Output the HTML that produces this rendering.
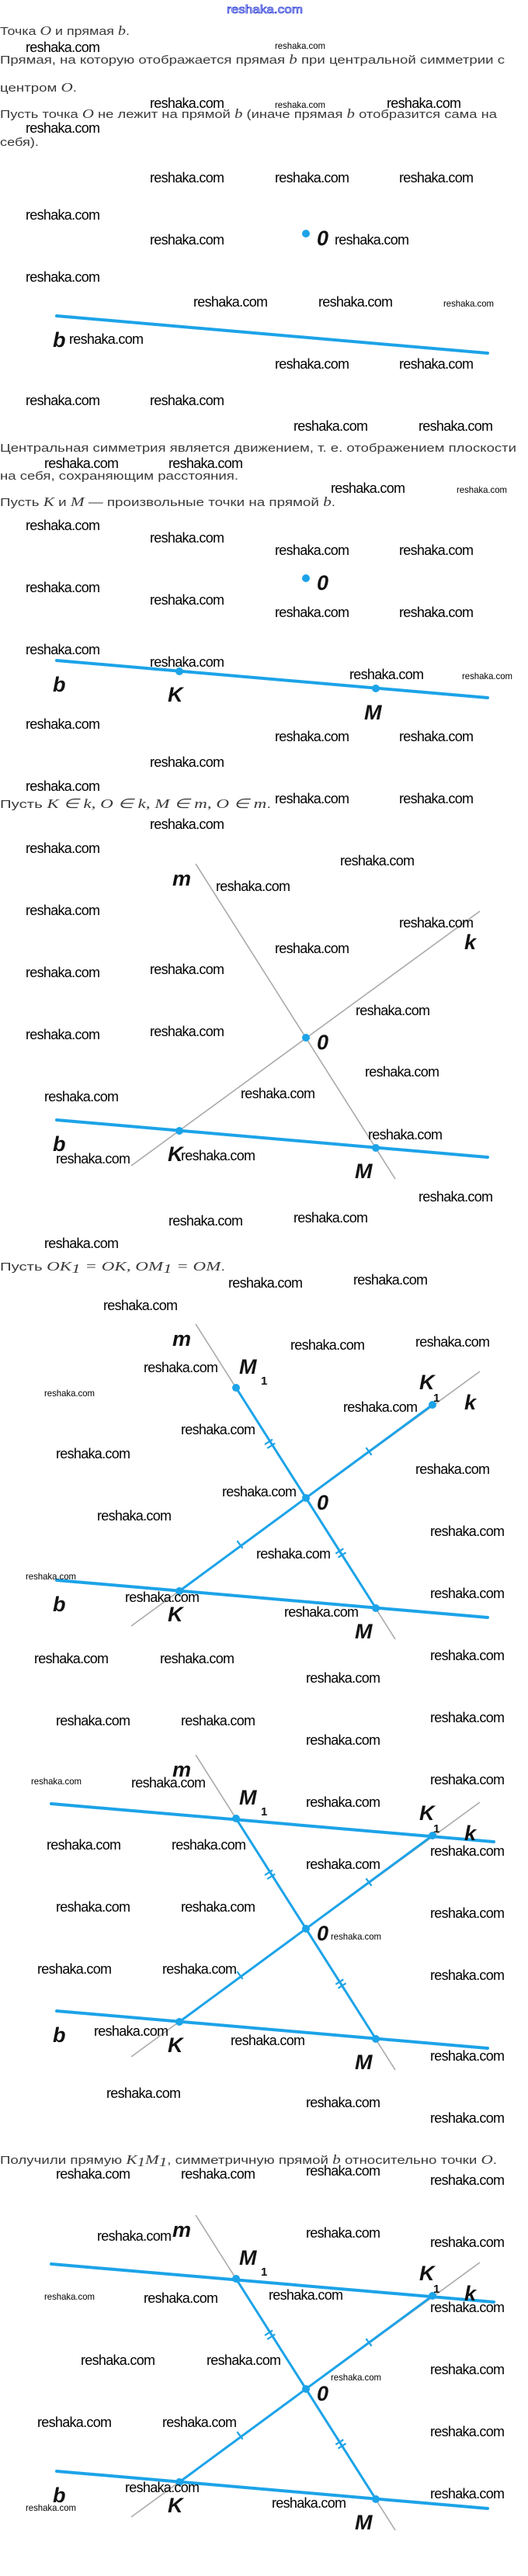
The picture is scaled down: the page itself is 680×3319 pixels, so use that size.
<!DOCTYPE html>
<html><head><meta charset="utf-8"><style>
html,body{margin:0;padding:0;background:#fff;}
svg{display:block;}
.t{font-family:"Liberation Sans",sans-serif;font-size:15px;fill:#3a3a3a;}
.m{font-family:"Liberation Serif",serif;font-style:italic;font-size:17px;}
.w{font-family:"Liberation Sans Narrow","Liberation Sans",sans-serif;font-size:18px;fill:#000;}
.ws{font-family:"Liberation Sans Narrow","Liberation Sans",sans-serif;font-size:12px;fill:#000;}
.l{font-family:"Liberation Sans",sans-serif;font-weight:bold;font-style:italic;font-size:27px;fill:#111;}
.s{font-family:"Liberation Sans",sans-serif;font-weight:bold;font-size:15px;fill:#111;}
.g{stroke:#aaa;stroke-width:1.6;fill:none;}
.bb{stroke:#1ca3e8;stroke-width:4;fill:none;stroke-linecap:round;}
.bs{stroke:#1ca3e8;stroke-width:3;fill:none;}
.tk{stroke:#1ca3e8;stroke-width:2.2;}
.d{fill:#1ca3e8;}
</style></head><body>
<svg width="680" height="3319" viewBox="0 0 680 3319" xmlns="http://www.w3.org/2000/svg">
<defs>
<g id="ticks">
<line class="tk" x1="341" y1="-69" x2="351" y2="-75.4"/>
<line class="tk" x1="344.2" y1="-64" x2="354.2" y2="-70.4"/>
<line class="tk" x1="471.4" y1="-64.8" x2="478.6" y2="-55.2"/>
<line class="tk" x1="305.4" y1="55.2" x2="312.6" y2="64.8"/>
<line class="tk" x1="432.3" y1="71.7" x2="442.3" y2="65.3"/>
<line class="tk" x1="435.5" y1="76.7" x2="445.5" y2="70.3"/>
</g>
</defs>
<text x="341" y="17" text-anchor="middle" font-family="Liberation Sans, sans-serif" font-size="15" fill="#fff" stroke="#2a3cd6" stroke-width="0.8" textLength="98" lengthAdjust="spacingAndGlyphs">reshaka.com</text>

<!-- paragraph text -->
<text class="t" x="0" y="45" textLength="167" lengthAdjust="spacingAndGlyphs">Точка <tspan class="m">O</tspan> и прямая <tspan class="m">b</tspan>.</text>
<text class="t" x="0" y="82" textLength="650" lengthAdjust="spacingAndGlyphs">Прямая, на которую отображается прямая <tspan class="m">b</tspan> при центральной симметрии с</text>
<text class="t" x="0" y="118" textLength="99" lengthAdjust="spacingAndGlyphs">центром <tspan class="m">O</tspan>.</text>
<text class="t" x="0" y="152" textLength="640" lengthAdjust="spacingAndGlyphs">Пусть точка <tspan class="m">O</tspan> не лежит на прямой <tspan class="m">b</tspan> (иначе прямая <tspan class="m">b</tspan> отобразится сама на</text>
<text class="t" x="0" y="188" textLength="50" lengthAdjust="spacingAndGlyphs">себя).</text>
<text class="t" x="0" y="582" textLength="665" lengthAdjust="spacingAndGlyphs">Центральная симметрия является движением, т. е. отображением плоскости</text>
<text class="t" x="0" y="618" textLength="307" lengthAdjust="spacingAndGlyphs">на себя, сохраняющим расстояния.</text>
<text class="t" x="0" y="652" textLength="432" lengthAdjust="spacingAndGlyphs">Пусть <tspan class="m">K</tspan> и <tspan class="m">M</tspan> — произвольные точки на прямой <tspan class="m">b</tspan>.</text>
<text class="t" x="0" y="1041" textLength="349" lengthAdjust="spacingAndGlyphs">Пусть <tspan class="m">K ∈ k,  O ∈ k,  M ∈ m,  O ∈ m</tspan>.</text>
<text class="t" x="0" y="1637" textLength="290" lengthAdjust="spacingAndGlyphs">Пусть <tspan class="m">OK</tspan><tspan class="m" font-size="11" dy="3">1</tspan><tspan class="m" dy="-3"> = OK, OM</tspan><tspan class="m" font-size="11" dy="3">1</tspan><tspan class="m" dy="-3"> = OM</tspan>.</text>
<text class="t" x="0" y="2788" textLength="640" lengthAdjust="spacingAndGlyphs">Получили прямую <tspan class="m">K</tspan><tspan class="m" font-size="11" dy="3">1</tspan><tspan class="m" dy="-3">M</tspan><tspan class="m" font-size="11" dy="3">1</tspan><tspan dy="-3">, симметричную прямой </tspan><tspan class="m">b</tspan> относительно точки <tspan class="m">O</tspan>.</text>

<!-- Diagram 1 -->
<g transform="translate(0,301)">
<line class="bb" x1="73" y1="106" x2="628" y2="154"/>
<circle class="d" cx="394" cy="0" r="5"/>
<text class="l" x="408" y="15">0</text>
<text class="l" x="68" y="146">b</text>
</g>
<!-- Diagram 2 -->
<g transform="translate(0,745)">
<line class="bb" x1="73" y1="106" x2="628" y2="154"/>
<circle class="d" cx="394" cy="0" r="5"/>
<circle class="d" cx="231" cy="120" r="5"/>
<circle class="d" cx="484" cy="142" r="5"/>
<text class="l" x="408" y="15">0</text>
<text class="l" x="68" y="146">b</text>
<text class="l" x="216" y="159">K</text>
<text class="l" x="469" y="182">M</text>
</g>
<!-- Diagram 3 -->
<g transform="translate(0,1337)">
<line class="g" x1="252" y1="-224" x2="509" y2="182"/>
<line class="g" x1="618" y1="-163" x2="169" y2="165"/>
<line class="bb" x1="73" y1="106" x2="628" y2="154"/>
<circle class="d" cx="394" cy="0" r="5"/>
<circle class="d" cx="231" cy="120" r="5"/>
<circle class="d" cx="484" cy="142" r="5"/>
<text class="l" x="222" y="-196">m</text>
<text class="l" x="598" y="-114">k</text>
<text class="l" x="408" y="15">0</text>
<text class="l" x="68" y="146">b</text>
<text class="l" x="216" y="159">K</text>
<text class="l" x="457" y="181">M</text>
</g>
<!-- Diagram 4 -->
<g transform="translate(0,1930)">
<line class="g" x1="252" y1="-224" x2="509" y2="182"/>
<line class="g" x1="618" y1="-163" x2="169" y2="165"/>
<line class="bb" x1="73" y1="106" x2="628" y2="154"/>
<line class="bs" x1="304" y1="-142" x2="484" y2="142"/>
<line class="bs" x1="557" y1="-120" x2="231" y2="120"/>
<use href="#ticks"/>
<circle class="d" cx="394" cy="0" r="5"/>
<circle class="d" cx="231" cy="120" r="5"/>
<circle class="d" cx="484" cy="142" r="5"/>
<circle class="d" cx="304" cy="-142" r="5"/>
<circle class="d" cx="557" cy="-120" r="5"/>
<text class="l" x="222" y="-196">m</text>
<text class="l" x="308" y="-160">M</text><text class="s" x="336" y="-146">1</text>
<text class="l" x="540" y="-140">K</text><text class="s" x="558" y="-124">1</text>
<text class="l" x="598" y="-114">k</text>
<text class="l" x="408" y="15">0</text>
<text class="l" x="68" y="146">b</text>
<text class="l" x="216" y="159">K</text>
<text class="l" x="457" y="181">M</text>
</g>
<!-- Diagram 5 -->
<g transform="translate(0,2485)">
<line class="g" x1="252" y1="-224" x2="509" y2="182"/>
<line class="g" x1="618" y1="-163" x2="169" y2="165"/>
<line class="bb" x1="73" y1="106" x2="628" y2="154"/>
<line class="bb" x1="66" y1="-161" x2="636" y2="-112"/>
<line class="bs" x1="304" y1="-142" x2="484" y2="142"/>
<line class="bs" x1="557" y1="-120" x2="231" y2="120"/>
<use href="#ticks"/>
<circle class="d" cx="394" cy="0" r="5"/>
<circle class="d" cx="231" cy="120" r="5"/>
<circle class="d" cx="484" cy="142" r="5"/>
<circle class="d" cx="304" cy="-142" r="5"/>
<circle class="d" cx="557" cy="-120" r="5"/>
<text class="l" x="222" y="-196">m</text>
<text class="l" x="308" y="-160">M</text><text class="s" x="336" y="-146">1</text>
<text class="l" x="540" y="-140">K</text><text class="s" x="558" y="-124">1</text>
<text class="l" x="598" y="-114">k</text>
<text class="l" x="408" y="15">0</text>
<text class="l" x="68" y="146">b</text>
<text class="l" x="216" y="159">K</text>
<text class="l" x="457" y="181">M</text>
</g>
<!-- Diagram 6 -->
<g transform="translate(0,3078)">
<line class="g" x1="252" y1="-224" x2="509" y2="182"/>
<line class="g" x1="618" y1="-163" x2="169" y2="165"/>
<line class="bb" x1="73" y1="106" x2="628" y2="154"/>
<line class="bb" x1="66" y1="-161" x2="636" y2="-112"/>
<line class="bs" x1="304" y1="-142" x2="484" y2="142"/>
<line class="bs" x1="557" y1="-120" x2="231" y2="120"/>
<use href="#ticks"/>
<circle class="d" cx="394" cy="0" r="5"/>
<circle class="d" cx="231" cy="120" r="5"/>
<circle class="d" cx="484" cy="142" r="5"/>
<circle class="d" cx="304" cy="-142" r="5"/>
<circle class="d" cx="557" cy="-120" r="5"/>
<text class="l" x="222" y="-196">m</text>
<text class="l" x="308" y="-160">M</text><text class="s" x="336" y="-146">1</text>
<text class="l" x="540" y="-140">K</text><text class="s" x="558" y="-124">1</text>
<text class="l" x="598" y="-114">k</text>
<text class="l" x="408" y="15">0</text>
<text class="l" x="68" y="146">b</text>
<text class="l" x="216" y="159">K</text>
<text class="l" x="457" y="181">M</text>
</g>

<!-- big watermarks -->
<g class="w" lengthAdjust="spacingAndGlyphs">
<text class="w" textLength="96" x="33" y="67">reshaka.com</text>
<text class="w" textLength="96" x="193" y="139">reshaka.com</text>
<text class="w" textLength="96" x="498" y="139">reshaka.com</text>
<text class="w" textLength="96" x="33" y="171">reshaka.com</text>
<text class="w" textLength="96" x="193" y="235">reshaka.com</text>
<text class="w" textLength="96" x="354" y="235">reshaka.com</text>
<text class="w" textLength="96" x="514" y="235">reshaka.com</text>
<text class="w" textLength="96" x="33" y="283">reshaka.com</text>
<text class="w" textLength="96" x="193" y="315">reshaka.com</text>
<text class="w" textLength="96" x="431" y="315">reshaka.com</text>
<text class="w" textLength="96" x="33" y="363">reshaka.com</text>
<text class="w" textLength="96" x="249" y="395">reshaka.com</text>
<text class="w" textLength="96" x="410" y="395">reshaka.com</text>
<text class="w" textLength="96" x="89" y="443">reshaka.com</text>
<text class="w" textLength="96" x="354" y="475">reshaka.com</text>
<text class="w" textLength="96" x="514" y="475">reshaka.com</text>
<text class="w" textLength="96" x="33" y="522">reshaka.com</text>
<text class="w" textLength="96" x="193" y="522">reshaka.com</text>
<text class="w" textLength="96" x="378" y="555">reshaka.com</text>
<text class="w" textLength="96" x="539" y="555">reshaka.com</text>
<text class="w" textLength="96" x="57" y="603">reshaka.com</text>
<text class="w" textLength="96" x="217" y="603">reshaka.com</text>
<text class="w" textLength="96" x="426" y="635">reshaka.com</text>
<text class="w" textLength="96" x="33" y="683">reshaka.com</text>
<text class="w" textLength="96" x="193" y="699">reshaka.com</text>
<text class="w" textLength="96" x="354" y="715">reshaka.com</text>
<text class="w" textLength="96" x="514" y="715">reshaka.com</text>
<text class="w" textLength="96" x="33" y="763">reshaka.com</text>
<text class="w" textLength="96" x="193" y="779">reshaka.com</text>
<text class="w" textLength="96" x="354" y="795">reshaka.com</text>
<text class="w" textLength="96" x="514" y="795">reshaka.com</text>
<text class="w" textLength="96" x="33" y="843">reshaka.com</text>
<text class="w" textLength="96" x="193" y="859">reshaka.com</text>
<text class="w" textLength="96" x="450" y="875">reshaka.com</text>
<text class="w" textLength="96" x="33" y="939">reshaka.com</text>
<text class="w" textLength="96" x="354" y="955">reshaka.com</text>
<text class="w" textLength="96" x="514" y="955">reshaka.com</text>
<text class="w" textLength="96" x="193" y="988">reshaka.com</text>
<text class="w" textLength="96" x="33" y="1019">reshaka.com</text>
<text class="w" textLength="96" x="354" y="1035">reshaka.com</text>
<text class="w" textLength="96" x="514" y="1035">reshaka.com</text>
<text class="w" textLength="96" x="193" y="1068">reshaka.com</text>
<text class="w" textLength="96" x="33" y="1099">reshaka.com</text>
<text class="w" textLength="96" x="438" y="1115">reshaka.com</text>
<text class="w" textLength="96" x="278" y="1148">reshaka.com</text>
<text class="w" textLength="96" x="33" y="1179">reshaka.com</text>
<text class="w" textLength="96" x="514" y="1195">reshaka.com</text>
<text class="w" textLength="96" x="354" y="1228">reshaka.com</text>
<text class="w" textLength="96" x="193" y="1255">reshaka.com</text>
<text class="w" textLength="96" x="33" y="1259">reshaka.com</text>
<text class="w" textLength="96" x="458" y="1308">reshaka.com</text>
<text class="w" textLength="96" x="193" y="1335">reshaka.com</text>
<text class="w" textLength="96" x="33" y="1339">reshaka.com</text>
<text class="w" textLength="96" x="470" y="1387">reshaka.com</text>
<text class="w" textLength="96" x="310" y="1415">reshaka.com</text>
<text class="w" textLength="96" x="57" y="1419">reshaka.com</text>
<text class="w" textLength="96" x="474" y="1468">reshaka.com</text>
<text class="w" textLength="96" x="72" y="1499">reshaka.com</text>
<text class="w" textLength="96" x="233" y="1495">reshaka.com</text>
<text class="w" textLength="96" x="539" y="1548">reshaka.com</text>
<text class="w" textLength="96" x="217" y="1579">reshaka.com</text>
<text class="w" textLength="96" x="378" y="1575">reshaka.com</text>
<text class="w" textLength="96" x="57" y="1608">reshaka.com</text>
<text class="w" textLength="96" x="294" y="1659">reshaka.com</text>
<text class="w" textLength="96" x="455" y="1655">reshaka.com</text>
<text class="w" textLength="96" x="133" y="1688">reshaka.com</text>
<text class="w" textLength="96" x="374" y="1739">reshaka.com</text>
<text class="w" textLength="96" x="535" y="1735">reshaka.com</text>
<text class="w" textLength="96" x="185" y="1768">reshaka.com</text>
<text class="w" textLength="96" x="442" y="1819">reshaka.com</text>
<text class="w" textLength="96" x="233" y="1848">reshaka.com</text>
<text class="w" textLength="96" x="72" y="1879">reshaka.com</text>
<text class="w" textLength="96" x="535" y="1899">reshaka.com</text>
<text class="w" textLength="96" x="286" y="1928">reshaka.com</text>
<text class="w" textLength="96" x="125" y="1959">reshaka.com</text>
<text class="w" textLength="96" x="554" y="1979">reshaka.com</text>
<text class="w" textLength="96" x="330" y="2008">reshaka.com</text>
<text class="w" textLength="96" x="161" y="2064">reshaka.com</text>
<text class="w" textLength="96" x="554" y="2059">reshaka.com</text>
<text class="w" textLength="96" x="366" y="2083">reshaka.com</text>
<text class="w" textLength="96" x="44" y="2143">reshaka.com</text>
<text class="w" textLength="96" x="206" y="2143">reshaka.com</text>
<text class="w" textLength="96" x="554" y="2139">reshaka.com</text>
<text class="w" textLength="96" x="394" y="2168">reshaka.com</text>
<text class="w" textLength="96" x="72" y="2223">reshaka.com</text>
<text class="w" textLength="96" x="233" y="2223">reshaka.com</text>
<text class="w" textLength="96" x="554" y="2219">reshaka.com</text>
<text class="w" textLength="96" x="394" y="2248">reshaka.com</text>
<text class="w" textLength="96" x="169" y="2303">reshaka.com</text>
<text class="w" textLength="96" x="554" y="2299">reshaka.com</text>
<text class="w" textLength="96" x="394" y="2328">reshaka.com</text>
<text class="w" textLength="96" x="60" y="2383">reshaka.com</text>
<text class="w" textLength="96" x="221" y="2383">reshaka.com</text>
<text class="w" textLength="96" x="554" y="2391">reshaka.com</text>
<text class="w" textLength="96" x="394" y="2408">reshaka.com</text>
<text class="w" textLength="96" x="72" y="2463">reshaka.com</text>
<text class="w" textLength="96" x="233" y="2463">reshaka.com</text>
<text class="w" textLength="96" x="554" y="2471">reshaka.com</text>
<text class="w" textLength="96" x="48" y="2543">reshaka.com</text>
<text class="w" textLength="96" x="209" y="2543">reshaka.com</text>
<text class="w" textLength="96" x="554" y="2551">reshaka.com</text>
<text class="w" textLength="96" x="121" y="2623">reshaka.com</text>
<text class="w" textLength="96" x="297" y="2635">reshaka.com</text>
<text class="w" textLength="96" x="554" y="2655">reshaka.com</text>
<text class="w" textLength="96" x="137" y="2703">reshaka.com</text>
<text class="w" textLength="96" x="394" y="2715">reshaka.com</text>
<text class="w" textLength="96" x="554" y="2735">reshaka.com</text>
<text class="w" textLength="96" x="72" y="2807">reshaka.com</text>
<text class="w" textLength="96" x="233" y="2807">reshaka.com</text>
<text class="w" textLength="96" x="394" y="2803">reshaka.com</text>
<text class="w" textLength="96" x="554" y="2815">reshaka.com</text>
<text class="w" textLength="96" x="125" y="2887">reshaka.com</text>
<text class="w" textLength="96" x="394" y="2883">reshaka.com</text>
<text class="w" textLength="96" x="554" y="2895">reshaka.com</text>
<text class="w" textLength="96" x="185" y="2967">reshaka.com</text>
<text class="w" textLength="96" x="346" y="2963">reshaka.com</text>
<text class="w" textLength="96" x="554" y="2979">reshaka.com</text>
<text class="w" textLength="96" x="104" y="3047">reshaka.com</text>
<text class="w" textLength="96" x="266" y="3047">reshaka.com</text>
<text class="w" textLength="96" x="554" y="3059">reshaka.com</text>
<text class="w" textLength="96" x="48" y="3127">reshaka.com</text>
<text class="w" textLength="96" x="209" y="3127">reshaka.com</text>
<text class="w" textLength="96" x="554" y="3139">reshaka.com</text>
<text class="w" textLength="96" x="161" y="3211">reshaka.com</text>
<text class="w" textLength="96" x="350" y="3231">reshaka.com</text>
<text class="w" textLength="96" x="554" y="3219">reshaka.com</text>
</g>
<!-- small watermarks -->
<g>
<text class="ws" textLength="65" lengthAdjust="spacingAndGlyphs" x="354" y="63">reshaka.com</text>
<text class="ws" textLength="65" lengthAdjust="spacingAndGlyphs" x="354" y="139">reshaka.com</text>
<text class="ws" textLength="65" lengthAdjust="spacingAndGlyphs" x="571" y="395">reshaka.com</text>
<text class="ws" textLength="65" lengthAdjust="spacingAndGlyphs" x="588" y="635">reshaka.com</text>
<text class="ws" textLength="65" lengthAdjust="spacingAndGlyphs" x="595" y="875">reshaka.com</text>
<text class="ws" textLength="65" lengthAdjust="spacingAndGlyphs" x="57" y="1799">reshaka.com</text>
<text class="ws" textLength="65" lengthAdjust="spacingAndGlyphs" x="33" y="2035">reshaka.com</text>
<text class="ws" textLength="65" lengthAdjust="spacingAndGlyphs" x="40" y="2299">reshaka.com</text>
<text class="ws" textLength="65" lengthAdjust="spacingAndGlyphs" x="426" y="2499">reshaka.com</text>
<text class="ws" textLength="65" lengthAdjust="spacingAndGlyphs" x="57" y="2963">reshaka.com</text>
<text class="ws" textLength="65" lengthAdjust="spacingAndGlyphs" x="426" y="3067">reshaka.com</text>
<text class="ws" textLength="65" lengthAdjust="spacingAndGlyphs" x="33" y="3235">reshaka.com</text>
</g>
</svg>
</body></html>
